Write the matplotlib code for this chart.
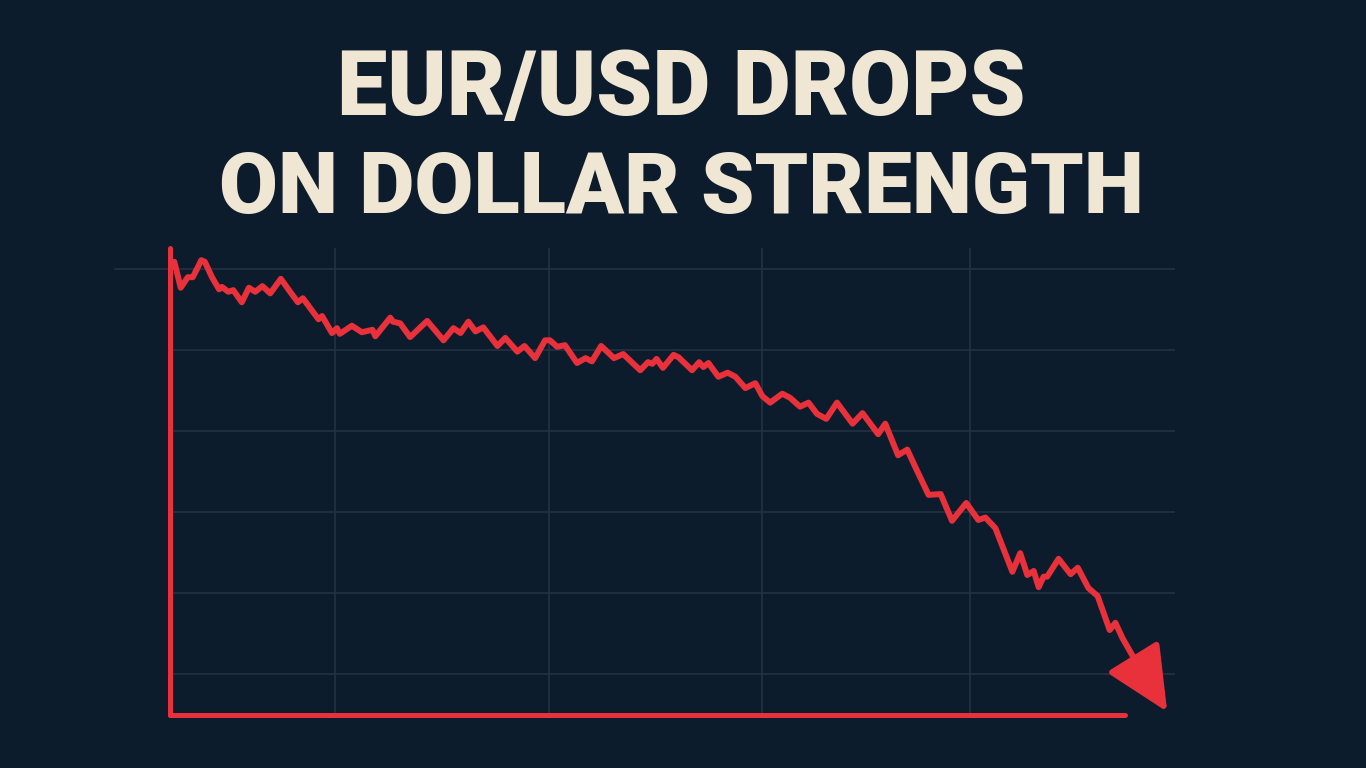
import numpy as np
import matplotlib.pyplot as plt

# EUR/USD path (x = trading day, y = rate)
days = [0.3, 0.6, 1.5, 2.5, 3.2, 4.4, 4.9, 5.9, 6.9, 7.3, 8.2, 8.9, 10.1, 11.1, 12.0, 13.0,
        14.1, 15.6, 16.9, 18.0, 18.7, 20.9, 21.4, 22.8, 23.5, 23.9, 25.6, 27.0, 28.5, 28.9,
        31.0, 31.4, 32.4, 33.8, 36.2, 38.5, 39.9, 40.9, 42.0, 43.0, 44.1, 46.1, 47.2, 48.9,
        49.9, 51.4, 52.8, 53.5, 54.5, 55.6, 57.3, 58.5, 59.4, 60.7, 62.5, 63.8, 66.2, 67.3,
        67.9, 68.5, 69.4, 70.9, 71.6, 73.5, 74.5, 75.1, 75.8, 77.2, 78.5, 79.6, 81.0, 82.4,
        83.4, 84.5, 86.2, 87.3, 88.7, 89.9, 91.1, 92.4, 93.9, 96.1, 97.5, 99.7, 100.7, 102.5,
        103.8, 104.9, 106.8, 108.5, 110.1, 112.1, 113.8, 114.8, 116.2, 118.6, 119.7, 120.7,
        121.6, 122.3, 123.0, 123.5, 125.1, 126.8, 127.8, 129.3, 130.6, 132.3, 133.1, 134.1,
        135.6, 137.0, 140.4]
rate = [1.1206, 1.1209, 1.1177, 1.1190, 1.1190, 1.1211, 1.1209, 1.1190, 1.1175, 1.1178,
        1.1172, 1.1174, 1.1159, 1.1177, 1.1172, 1.1179, 1.1170, 1.1188, 1.1172, 1.1159,
        1.1164, 1.1138, 1.1142, 1.1121, 1.1127, 1.1120, 1.1130, 1.1122, 1.1125, 1.1117,
        1.1140, 1.1135, 1.1133, 1.1116, 1.1136, 1.1112, 1.1127, 1.1121, 1.1135, 1.1123,
        1.1128, 1.1105, 1.1115, 1.1098, 1.1105, 1.1090, 1.1112, 1.1112, 1.1104, 1.1106,
        1.1084, 1.1090, 1.1086, 1.1105, 1.1090, 1.1095, 1.1075, 1.1085, 1.1083, 1.1089,
        1.1078, 1.1094, 1.1091, 1.1075, 1.1085, 1.1079, 1.1084, 1.1067, 1.1072, 1.1067,
        1.1053, 1.1059, 1.1043, 1.1035, 1.1046, 1.1041, 1.1030, 1.1035, 1.1021, 1.1015,
        1.1035, 1.1009, 1.1022, 1.0996, 1.1009, 1.0970, 1.0977, 1.0956, 1.0921, 1.0922,
        1.0889, 1.0911, 1.0890, 1.0893, 1.0880, 1.0826, 1.0849, 1.0822, 1.0827, 1.0807,
        1.0820, 1.0820, 1.0842, 1.0823, 1.0831, 1.0806, 1.0796, 1.0754, 1.0763, 1.0744,
        1.0721, 1.0696, 1.0653]

grid_days = [23.2, 53.4, 83.4, 112.7]
grid_rates = [1.12, 1.11, 1.10, 1.09, 1.08, 1.07]
title_lines = ["EUR/USD DROPS", "ON DOLLAR STRENGTH"]

bg = "#0d1c2c"
red = "#e8313a"
cream = "#efe6d3"
gridc = "#233243"

fig = plt.figure(figsize=(13.66, 7.68), dpi=100, facecolor=bg)
ax = fig.add_axes([0.1245, 0.069, 0.7357, 0.608])
ax.set_facecolor(bg)

ax.set_xlim(0, 141.5)
ax.set_ylim(1.0649, 1.1226)
ax.set_xticks(grid_days)
ax.set_yticks(grid_rates)
ax.grid(True, color=gridc, lw=1.2)
ax.tick_params(length=0, labelbottom=False, labelleft=False)
ax.axhline(grid_rates[0], xmin=-0.055, xmax=0, color=gridc, lw=1.2, clip_on=False)

for s in ["top", "right"]:
    ax.spines[s].set_visible(False)
for s in ["left", "bottom"]:
    ax.spines[s].set_color(red)
    ax.spines[s].set_linewidth(3.6)
    ax.spines[s].set_capstyle("round")
ax.spines["bottom"].set_bounds(0, 134.4)

ax.plot(days[:-1], rate[:-1], color=red, lw=4.3, solid_joinstyle="round",
        solid_capstyle="round", zorder=3)
ax.annotate("", xy=(days[-1], rate[-1]), xytext=(days[-3], rate[-3]),
            arrowprops=dict(arrowstyle="-|>,head_length=1.0,head_width=0.47",
                            color=red, lw=4.3, shrinkA=0, shrinkB=0,
                            mutation_scale=40), annotation_clip=False, zorder=4)

fig.text(0.4985, 1 - 90 / 768, title_lines[0], color=cream, fontsize=64.5,
         fontfamily="Roboto", fontweight="heavy", ha="center", va="center")
fig.text(0.4985, 1 - 189 / 768, title_lines[1], color=cream, fontsize=61.5,
         fontfamily="Roboto", fontweight="heavy", ha="center", va="center")

fig.savefig("out.png", dpi=100, facecolor=bg)
